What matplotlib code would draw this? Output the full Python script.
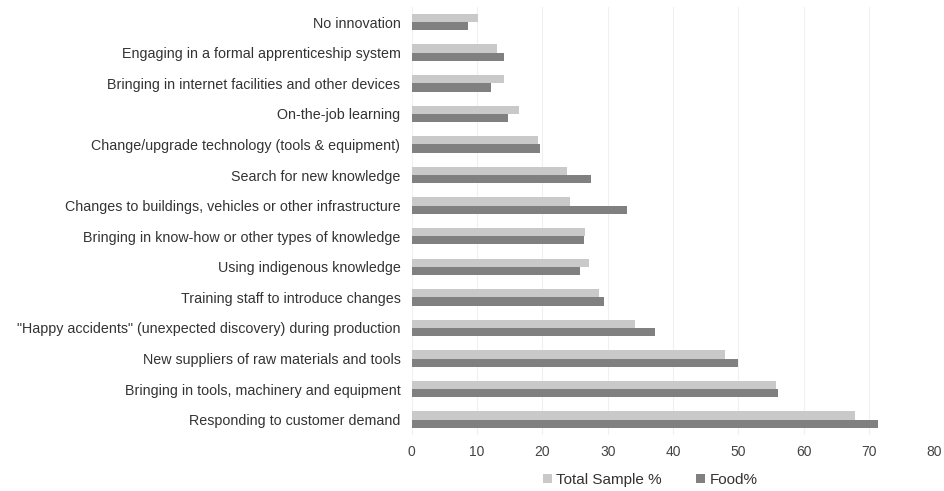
import matplotlib
matplotlib.use("Agg")
import matplotlib.pyplot as plt
import numpy as np

plt.rcParams["font.family"] = ["Liberation Sans", "DejaVu Sans"]

categories = [
    "No innovation",
    "Engaging in a formal apprenticeship system",
    "Bringing in internet facilities and other devices",
    "On-the-job learning",
    "Change/upgrade technology (tools & equipment)",
    "Search for new knowledge",
    "Changes to buildings, vehicles or other infrastructure",
    "Bringing in know-how or other types of knowledge",
    "Using indigenous knowledge",
    "Training staff to introduce changes",
    "\"Happy accidents\" (unexpected discovery) during production",
    "New suppliers of raw materials and tools",
    "Bringing in tools, machinery and equipment",
    "Responding to customer demand",
]
total_sample = [10.2, 13.1, 14.2, 16.4, 19.4, 23.7, 24.3, 26.6, 27.2, 28.6, 34.2, 48.0, 55.7, 67.8]
food = [8.7, 14.2, 12.2, 14.8, 19.6, 27.4, 32.9, 26.3, 25.8, 29.4, 37.3, 50.0, 56.0, 71.3]
xticks = [0, 10, 20, 30, 40, 50, 60, 70, 80]

fig = plt.figure(figsize=(9.44, 4.91), dpi=100)
ax = fig.add_axes([0.436, 0.114, 0.554, 0.872])

y = np.arange(len(categories))
h = 0.27
ax.barh(y - h / 2, total_sample, height=h, color="#c9c9c9", label="Total Sample %")
ax.barh(y + h / 2, food, height=h, color="#808080", label="Food%")

ax.set_yticks(y)
ax.set_yticklabels(categories, fontsize=10.3, color="#333333")
ax.set_ylim(len(categories) - 0.5, -0.5)
ax.set_xlim(0, 80)
ax.set_xticks(xticks)
ax.tick_params(axis="x", labelsize=10, colors="#444444", length=0, pad=7)
ax.tick_params(axis="y", length=0, pad=8)
ax.grid(axis="x", color="#f0f0f0", linewidth=0.8)
ax.set_axisbelow(True)
for s in ax.spines.values():
    s.set_visible(False)

fig.legend(loc="center", bbox_to_anchor=(650 / 944, 1 - 480 / 491), ncol=2, frameon=False,
           fontsize=11, handlelength=0.6, handleheight=0.6, columnspacing=2.2,
           handletextpad=0.3, labelcolor="#333333")

fig.savefig("out.png", dpi=100)
